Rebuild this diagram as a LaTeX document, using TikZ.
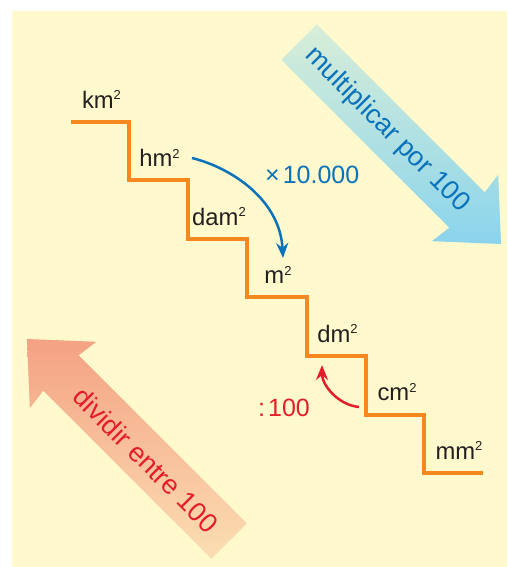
\documentclass[tikz,border=0pt]{standalone}
\usepackage{fontspec}
\setmainfont{Liberation Sans}
\usetikzlibrary{arrows.meta}
\definecolor{bgy}{HTML}{FFF9CD}
\definecolor{stairor}{HTML}{F5891F}
\definecolor{txtblue}{HTML}{0A72BA}
\definecolor{txtred}{HTML}{E31E2A}
\definecolor{txtdark}{HTML}{231F20}
\definecolor{bandbtop}{HTML}{D8EED8}
\definecolor{bandbbot}{HTML}{8AD4EC}
\definecolor{bandptop}{HTML}{F4A283}
\definecolor{bandpbot}{HTML}{FBDEB3}
\newcommand\squnit[1]{#1\raisebox{8.5pt}{\fontsize{13}{13}\selectfont 2}}
\begin{document}
\begin{tikzpicture}[x=1pt,y=-1pt,
  unitlabel/.style={inner sep=0pt, anchor=base, text=txtdark, font=\fontsize{23.8}{24}\selectfont},
  factor/.style={inner sep=0pt, anchor=base west, font=\fontsize{25}{25}\selectfont},
  bandtext/.style={inner sep=0pt, rotate=-45, anchor=center, font=\fontsize{27}{27}\selectfont},
  stairline/.style={draw=stairor, line width=4pt, miter limit=10},
  conv/.style={line width=2.5pt, -{Stealth[length=15pt,width=12pt]}}]
\useasboundingbox (0,0) rectangle (507,567);
\fill[bgy] (12,11) rectangle (507,567);
% big arrows
\shade[top color=bandbtop, bottom color=bandbbot]
  (316.7,24.3) -- (484.7,192.3) -- (498.2,174.8) -- (501,244) -- (431.8,241.2) -- (449.3,227.7) -- (281.3,59.7) -- cycle;
\shade[top color=bandptop, bottom color=bandpbot]
  (246.7,523.3) -- (78.7,355.3) -- (96.2,341.8) -- (27,339) -- (29.8,408.2) -- (43.3,390.7) -- (211.3,558.7) -- cycle;
\node[bandtext, text=txtblue] (mult) at (387,130) {multiplicar por 100};
\node[bandtext, text=txtred] (div) at (146,460) {dividir entre 100};
% stairs
\draw[stairline] (71,122) -- (129,122) -- (129,180) -- (188,180) -- (188,239) -- (247,239) -- (247,297) -- (307,297) -- (307,356) -- (366,356) -- (366,415) -- (424,415) -- (424,473) -- (483,473);
% unit labels
\node[unitlabel] (km) at (101.5,108.3) {\squnit{km}};
\node[unitlabel] (hm) at (159.5,166.7) {\squnit{hm}};
\node[unitlabel] (dam) at (219,225.1) {\squnit{dam}};
\node[unitlabel] (m) at (278,283.5) {\squnit{m}};
\node[unitlabel] (dm) at (337.5,342) {\squnit{dm}};
\node[unitlabel] (cm) at (397,400.5) {\squnit{cm}};
\node[unitlabel] (mm) at (459,459) {\squnit{mm}};
% factors
\node[factor, text=txtblue] (times) at (265,183.5) {×\hspace{3pt}10.000};
\node[factor, text=txtred] (colon) at (258,416) {:\hspace{3pt}100};
% conversion arrows
\coordinate (bstart) at (192,158);
\coordinate (bend) at (283,258);
\coordinate (rstart) at (359,407);
\coordinate (rend) at (322,365);
\draw[conv, draw=txtblue] (bstart) .. controls +(40,10) and +(-3,-58) .. (bend);
\draw[conv, draw=txtred] (rstart) .. controls +(-21,-2) and +(0,20) .. (rend);
\end{tikzpicture}
\end{document}
